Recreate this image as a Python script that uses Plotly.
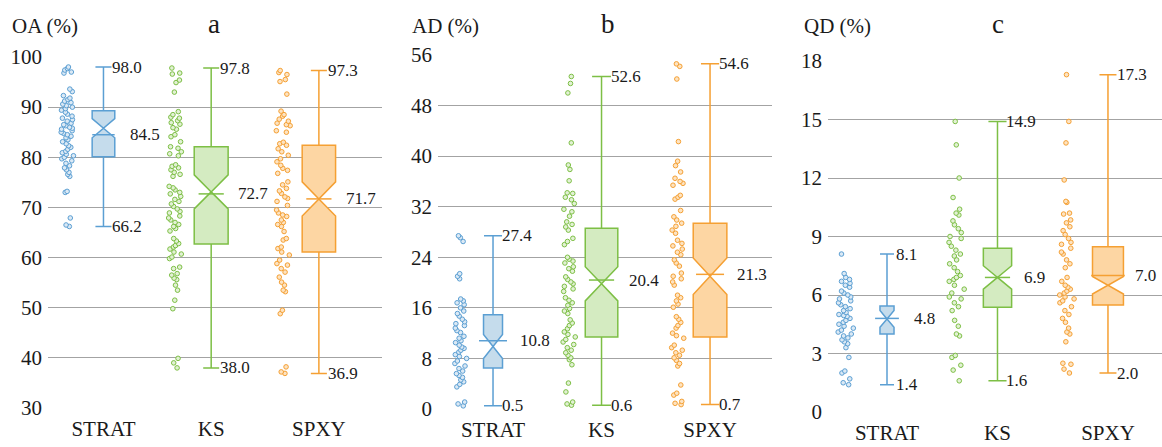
import plotly.graph_objects as go

categories = ["STRAT", "KS", "SPXY"]

# ---------------- Panel a : OA (%) ----------------
oa_max = [98.0, 97.8, 97.3]
oa_min = [66.2, 38.0, 36.9]
oa_mean = [84.5, 72.7, 71.7]
oa_q1 = [80.1, 62.7, 61.1]
oa_q3 = [89.3, 82.1, 82.4]
oa_median = [85.8, 73.1, 71.7]
oa_notch = [1.9, 3.4, 3.4]
oa_pts_strat = [98.0, 97.7, 97.4, 97.0, 96.8, 93.6, 93.1, 92.3, 91.8, 91.5, 91.2, 90.9, 90.6,
                90.3, 90.0, 89.7, 89.4, 89.0, 88.6, 88.2, 87.8, 87.5, 87.2, 86.8, 86.5, 86.3,
                86.0, 85.8, 85.6, 85.3, 85.0, 84.8, 84.5, 84.2, 83.9, 83.5, 83.1, 82.7, 82.3,
                82.0, 81.6, 81.2, 80.9, 80.6, 80.3, 80.0, 79.7, 79.3, 78.8, 78.3, 77.9, 77.5,
                77.0, 76.6, 76.2, 73.2, 73.0, 67.9, 66.5, 66.2]
oa_pts_ks = [97.8, 96.8, 96.6, 95.4, 94.9, 93.0, 89.1, 88.5, 88.0, 87.8, 87.3, 86.9, 86.6, 85.9,
             85.6, 84.5, 84.1, 83.1, 82.1, 81.8, 81.1, 80.7, 80.3, 78.5, 78.2, 77.9, 77.5, 77.0,
             76.6, 76.2, 74.2, 73.9, 73.5, 73.0, 72.7, 72.2, 71.6, 71.2, 70.7, 70.2, 69.7, 69.2,
             68.9, 68.3, 67.9, 67.5, 67.0, 66.6, 66.2, 65.8, 65.3, 63.8, 63.3, 62.8, 62.4, 62.1,
             61.7, 61.1, 60.7, 60.1, 59.8, 58.1, 57.8, 56.8, 56.5, 55.9, 55.6, 54.5, 53.5, 51.5,
             49.8, 39.9, 39.0, 38.0]
oa_pts_spxy = [97.3, 96.9, 96.5, 95.5, 95.1, 92.6, 89.2, 88.5, 88.2, 87.6, 87.2, 86.8, 86.5,
               86.3, 85.3, 85.0, 83.0, 82.7, 82.4, 81.7, 81.1, 80.4, 79.7, 79.1, 78.4, 77.8,
               77.4, 76.8, 75.1, 74.5, 73.8, 73.3, 72.8, 72.1, 71.8, 71.2, 70.4, 69.5, 68.9,
               68.5, 68.2, 67.5, 67.0, 66.6, 66.2, 65.2, 63.8, 63.5, 62.1, 61.8, 61.1, 60.5,
               59.5, 58.8, 58.5, 57.8, 57.1, 56.1, 55.1, 54.5, 53.5, 53.2, 49.5, 48.8, 38.2,
               37.2, 36.9]
oa_ticks = [30, 40, 50, 60, 70, 80, 90, 100]

# ---------------- Panel b : AD (%) ----------------
ad_max = [27.4, 52.6, 54.6]
ad_min = [0.5, 0.6, 0.7]
ad_mean = [10.8, 20.4, 21.3]
ad_q1 = [6.5, 11.4, 11.4]
ad_q3 = [14.9, 28.6, 29.4]
ad_median = [9.9, 19.8, 21.0]
ad_notch = [1.9, 2.7, 2.9]
ad_pts_strat = [27.4, 27.1, 26.5, 21.4, 21.0, 20.6, 17.4, 17.1, 16.8, 16.5, 16.0, 15.5, 15.1,
                14.7, 14.2, 13.8, 13.5, 13.2, 12.8, 12.4, 12.1, 11.5, 11.2, 10.8, 10.5, 10.1,
                9.8, 9.6, 9.3, 9.0, 8.6, 8.3, 8.0, 7.6, 7.2, 6.8, 6.4, 6.0, 5.6, 5.3, 5.0, 4.6,
                4.3, 3.9, 3.5, 1.1, 0.8, 0.5]
ad_pts_ks = [52.6, 51.5, 50.0, 42.1, 38.6, 37.9, 36.1, 34.2, 34.1, 33.5, 33.1, 32.5, 31.6, 31.2,
             30.5, 29.6, 29.2, 28.8, 28.3, 27.0, 26.5, 26.0, 24.0, 23.7, 23.4, 23.1, 22.5, 22.2,
             21.8, 20.9, 20.5, 20.1, 19.8, 19.4, 19.0, 18.6, 17.6, 17.2, 16.8, 16.4, 15.9, 15.5,
             15.1, 14.1, 13.6, 13.2, 12.7, 12.2, 11.8, 11.4, 11.0, 10.6, 10.2, 9.7, 9.3, 8.9,
             8.5, 8.1, 7.8, 7.0, 4.1, 2.7, 1.1, 0.8, 0.6]
ad_pts_spxy = [54.6, 54.2, 52.2, 42.3, 39.2, 38.5, 37.5, 36.5, 36.0, 35.7, 35.4, 33.8, 33.5,
               33.2, 31.4, 30.4, 29.9, 29.4, 28.9, 28.3, 27.8, 26.7, 26.2, 25.8, 25.3, 24.8,
               24.4, 23.6, 23.1, 22.6, 21.5, 21.0, 20.6, 20.1, 19.6, 18.0, 17.6, 17.1, 16.6,
               16.1, 14.6, 14.2, 13.7, 13.2, 12.8, 12.0, 11.6, 11.2, 10.1, 9.7, 9.3, 8.9, 8.5,
               8.1, 7.7, 7.2, 6.8, 3.8, 2.5, 2.2, 1.2, 0.9, 0.7]
ad_ticks = [0, 8, 16, 24, 32, 40, 48, 56]

# ---------------- Panel c : QD (%) ----------------
qd_max = [8.1, 14.9, 17.3]
qd_min = [1.4, 1.6, 2.0]
qd_mean = [4.8, 6.9, 7.0]
qd_q1 = [4.0, 5.37, 5.49]
qd_q3 = [5.44, 8.4, 8.48]
qd_median = [4.77, 6.9, 6.5]
qd_notch = [0.43, 0.6, 0.45]
qd_pts_strat = [8.1, 7.1, 6.9, 6.8, 6.7, 6.6, 6.5, 6.4, 6.2, 6.1, 6.0, 5.9, 5.8, 5.7, 5.6, 5.5,
                5.4, 5.3, 5.2, 5.1, 5.0, 4.95, 4.9, 4.8, 4.7, 4.6, 4.5, 4.4, 4.3, 4.2, 4.1, 4.0,
                3.9, 3.8, 3.7, 3.6, 3.5, 3.3, 2.8, 2.1, 2.0, 1.7, 1.5, 1.4]
qd_pts_ks = [14.9, 13.7, 12.0, 11.0, 10.4, 10.2, 10.1, 9.8, 9.6, 9.4, 9.2, 9.0, 8.9, 8.7, 8.5,
             8.3, 8.1, 8.0, 7.8, 7.6, 7.4, 7.2, 7.0, 6.9, 6.8, 6.7, 6.5, 6.3, 6.1, 5.9, 5.8,
             5.6, 5.4, 5.2, 4.7, 4.4, 4.0, 3.9, 2.9, 2.8, 2.4, 2.15, 1.6]
qd_pts_spxy = [17.3, 14.9, 13.8, 11.9, 10.8, 10.75, 10.2, 10.15, 9.85, 9.7, 9.5, 9.3, 9.1, 8.9,
               8.7, 8.6, 8.4, 8.2, 8.1, 7.8, 7.6, 7.4, 6.9, 6.7, 6.5, 6.4, 6.3, 6.2, 6.1, 6.0,
               5.9, 5.8, 5.7, 5.6, 5.4, 5.2, 5.0, 4.8, 4.6, 4.3, 4.1, 4.0, 3.6, 2.5, 2.45, 2.2,
               2.0]
qd_ticks = [0, 3, 6, 9, 12, 15, 18]

# ---------------- styling ----------------
line_colors = ["#5b9fd3", "#7dbf45", "#f5a033"]
fill_colors = ["#c5dcec", "#d4ebc1", "#fdd6a3"]
pt_fill = ["#dbe9f5", "#e2f1d4", "#fde3c1"]
FONT = "Liberation Serif, Times New Roman, DejaVu Serif, serif"
W, H = 1162, 447

panels = [
    dict(name="OA (%)", letter="a", mx=oa_max, mn=oa_min, mean=oa_mean, q1=oa_q1, q3=oa_q3,
         med=oa_median, notch=oa_notch, pts=[oa_pts_strat, oa_pts_ks, oa_pts_spxy],
         ticks=oa_ticks, yr=[30, 100],
         xpx=(48, 382), ypx=(57, 408), xr=[-0.515, 2.586],
         bw=[0.21, 0.315, 0.31], ww=[0.71, 0.47, 0.48], mw=[16, 18, 18], pw=0.33,
         title_x=10, letter_x=214),
    dict(name="AD (%)", letter="b", mx=ad_max, mn=ad_min, mean=ad_mean, q1=ad_q1, q3=ad_q3,
         med=ad_median, notch=ad_notch, pts=[ad_pts_strat, ad_pts_ks, ad_pts_spxy],
         ticks=ad_ticks, yr=[0, 56],
         xpx=(438, 772), ypx=(55, 409), xr=[-0.507, 2.571],
         bw=[0.175, 0.30, 0.31], ww=[0.95, 0.58, 0.54], mw=[20, 18, 20], pw=0.295,
         title_x=410, letter_x=608),
    dict(name="QD (%)", letter="c", mx=qd_max, mn=qd_min, mean=qd_mean, q1=qd_q1, q3=qd_q3,
         med=qd_median, notch=qd_notch, pts=[qd_pts_strat, qd_pts_ks, qd_pts_spxy],
         ticks=qd_ticks, yr=[0, 18],
         xpx=(828, 1162), ypx=(61, 412), xr=[-0.534, 2.489],
         bw=[0.127, 0.256, 0.28], ww=[1.0, 0.64, 0.55], mw=[17, 18, 24], pw=0.37,
         title_x=802, letter_x=998),
]

fig = go.Figure()
annotations = []
layout_axes = {}

for k, p in enumerate(panels):
    sfx = "" if k == 0 else str(k + 1)
    xa, ya = "x" + sfx, "y" + sfx
    for i, cat in enumerate(categories):
        # jittered sample points (hidden box, points shown to the left)
        fig.add_trace(go.Box(
            x=[cat] * len(p["pts"][i]), y=p["pts"][i], xaxis=xa, yaxis=ya,
            boxpoints="all", jitter=0.42, pointpos=-2, width=p["pw"],
            fillcolor="rgba(0,0,0,0)", line=dict(width=0, color="rgba(0,0,0,0)"),
            marker=dict(size=4.6, color=pt_fill[i], line=dict(color=line_colors[i], width=1)),
            showlegend=False, hoverinfo="y"))
        # notched box from summary statistics
        fig.add_trace(go.Box(
            x=[cat], q1=[p["q1"][i]], median=[p["med"][i]], q3=[p["q3"][i]],
            lowerfence=[p["mn"][i]], upperfence=[p["mx"][i]], notchspan=[p["notch"][i]],
            notched=True, notchwidth=0.5, width=p["bw"][i], whiskerwidth=p["ww"][i],
            fillcolor=fill_colors[i], line=dict(color=line_colors[i], width=1.5),
            boxpoints=False, xaxis=xa, yaxis=ya, showlegend=False))
        # mean marker line
        fig.add_trace(go.Scatter(
            x=[cat], y=[p["mean"][i]], xaxis=xa, yaxis=ya, mode="markers",
            marker=dict(symbol="line-ew", size=p["mw"][i],
                        line=dict(color=line_colors[i], width=1.5)),
            showlegend=False, hoverinfo="y"))
        # value labels
        for val, shift in ((p["mx"][i], 7), (p["mn"][i], 7), (p["mean"][i], 25)):
            annotations.append(dict(
                x=cat, y=val, xref=xa, yref=ya, text=f"{val:.1f}", showarrow=False,
                xanchor="left", yanchor="middle", xshift=shift,
                font=dict(family=FONT, size=17, color="#1a1a1a")))
    x0, x1 = p["xpx"]
    t0, b0 = p["ypx"]
    layout_axes["xaxis" + sfx] = dict(
        domain=[x0 / W, x1 / W], range=p["xr"], type="category", automargin=False,
        categoryorder="array", categoryarray=categories, anchor=ya,
        showgrid=False, zeroline=False, showline=False, ticks="",
        tickfont=dict(family=FONT, size=21, color="#1a1a1a"), ticklabelstandoff=6,
        fixedrange=True)
    layout_axes["yaxis" + sfx] = dict(
        domain=[1 - b0 / H, 1 - t0 / H], range=p["yr"], anchor=xa, automargin=False,
        tickvals=p["ticks"], showgrid=True, gridcolor="#a3a3a3", gridwidth=1.3,
        zeroline=False, showline=False, ticks="",
        tickfont=dict(family=FONT, size=21, color="#1a1a1a"), ticklabelstandoff=5,
        fixedrange=True)
    annotations.append(dict(
        x=p["title_x"] / W, y=1 - 26 / H, xref="paper", yref="paper", text=p["name"],
        showarrow=False, xanchor="left", yanchor="middle",
        font=dict(family=FONT, size=21, color="#1a1a1a")))
    annotations.append(dict(
        x=p["letter_x"] / W, y=1 - 24 / H, xref="paper", yref="paper", text=p["letter"],
        showarrow=False, xanchor="center", yanchor="middle",
        font=dict(family=FONT, size=27, color="#1a1a1a")))

fig.update_layout(
    width=W, height=H, margin=dict(l=0, r=0, t=0, b=0, pad=0, autoexpand=False),
    paper_bgcolor="white", plot_bgcolor="white", boxmode="overlay",
    font=dict(family=FONT, color="#1a1a1a"),
    annotations=annotations, **layout_axes)

fig.write_html("out.html", config={"displayModeBar": False},
               post_script="document.body.style.margin='0';"
                           "document.body.style.overflow='hidden';")
